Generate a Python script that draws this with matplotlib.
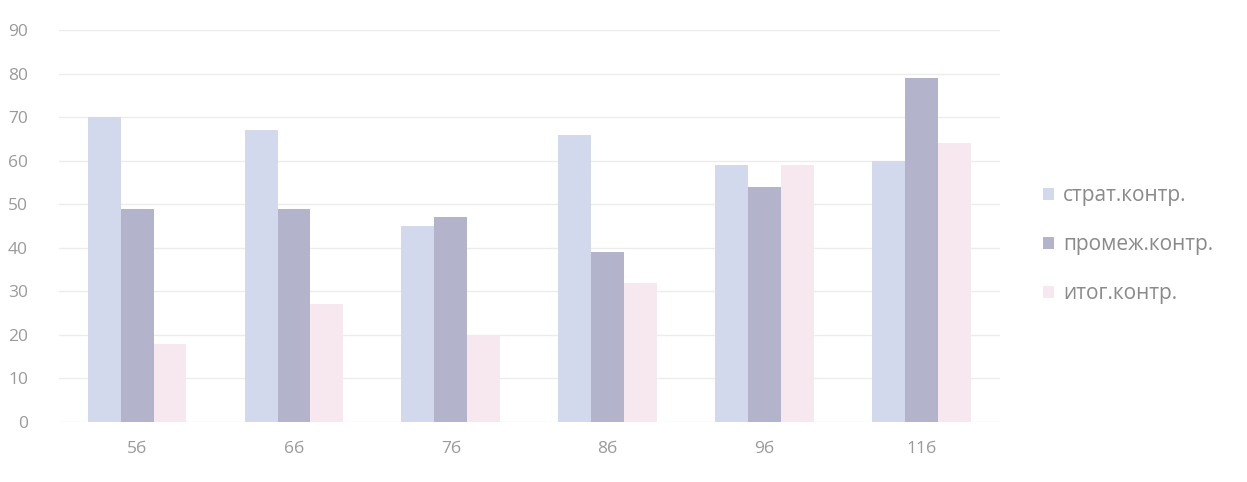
import matplotlib
matplotlib.use("Agg")
import matplotlib.pyplot as plt
import numpy as np

plt.rcParams['font.family'] = ['Open Sans', 'DejaVu Sans']

categories = ['5б', '6б', '7б', '8б', '9б', '11б']
series_names = ['страт.контр.', 'промеж.контр.', 'итог.контр.']
strat = [70, 67, 45, 66, 59, 60]
promezh = [49, 49, 47, 39, 54, 79]
itog = [18, 27, 20, 32, 59, 64]
yticks = [0, 10, 20, 30, 40, 50, 60, 70, 80, 90]

colors = ['#d3d9ec', '#b3b3cc', '#f7e7ef']

fig = plt.figure(figsize=(12.47, 4.82), dpi=100)
ax = fig.add_axes([0.047, 0.1245, 0.755, 0.8133])

x = np.arange(len(categories))
w = 0.21
for i, (vals, c, name) in enumerate(zip([strat, promezh, itog], colors, series_names)):
    ax.bar(x + (i - 1) * w, vals, width=w, color=c, label=name, zorder=2)

ax.set_ylim(0, 90)
ax.set_xlim(-0.5, len(categories) - 0.5)
ax.set_yticks(yticks)
ax.set_xticks(x)
ax.set_xticklabels(categories)
ax.yaxis.grid(True, color='#ececec', linewidth=1)
ax.set_axisbelow(True)
for s in ax.spines.values():
    s.set_visible(False)
ax.tick_params(length=0, colors='#9a9a9a', labelsize=12.5)
ax.tick_params(axis='y', pad=22)
ax.tick_params(axis='x', pad=14)

fig.legend(loc='center left', bbox_to_anchor=(0.821, 0.492), frameon=False,
           handlelength=0.55, handleheight=0.55, handletextpad=0.45,
           labelspacing=1.35, fontsize=15, labelcolor='#8a8a8a')

fig.savefig('out.png', dpi=100)
